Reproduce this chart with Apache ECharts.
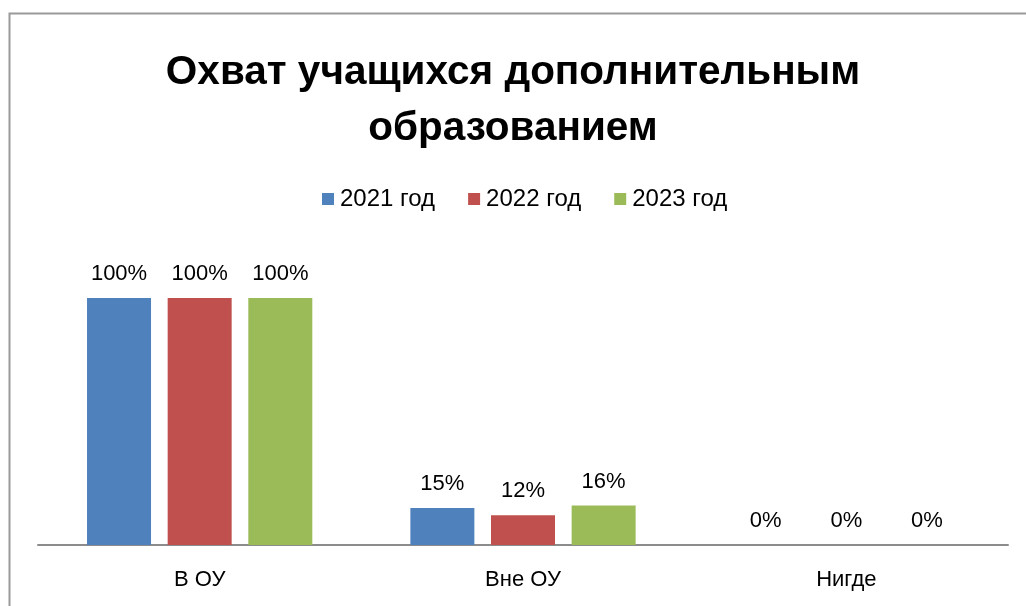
<!DOCTYPE html>
<html>
<head>
<meta charset="utf-8">
<script src="https://cdn.jsdelivr.net/npm/echarts@6/dist/echarts.min.js"></script>
<style>
  html, body { margin: 0; padding: 0; background: #fff; }
  #chart { width: 1026px; height: 606px; }
</style>
</head>
<body>
<div id="chart"></div>
<script>
// chart data
var categories = ['В ОУ', 'Вне ОУ', 'Нигде'];
var seriesNames = ['2021 год', '2022 год', '2023 год'];
var values2021 = [100, 15, 0];
var values2022 = [100, 12, 0];
var values2023 = [100, 16, 0];
var colors = ['#4F81BD', '#C0504D', '#9BBB59'];

initChart();

function initChart() {
  var dom = document.getElementById('chart');
  var myChart = echarts.init(dom);
  var allValues = [values2021, values2022, values2023];
  var font = 'Liberation Sans';

  var series = seriesNames.map(function (name, i) {
    return {
      name: name,
      type: 'bar',
      data: allValues[i],
      barWidth: 64,
      barGap: '26%',
      itemStyle: { color: colors[i] },
      label: {
        show: true,
        position: 'top',
        distance: 13,
        formatter: '{c}%',
        color: '#000',
        fontSize: 22,
        fontFamily: font
      }
    };
  });

  var option = {
    animation: false,
    title: {
      text: 'Охват учащихся дополнительным\nобразованием',
      left: 'center',
      top: 40,
      textStyle: {
        color: '#000',
        fontSize: 40.5,
        fontWeight: 'bold',
        fontFamily: font,
        lineHeight: 56
      }
    },
    legend: {
      top: 182,
      left: 317,
      itemWidth: 12,
      itemHeight: 12,
      itemGap: 33,
      icon: 'rect',
      textStyle: { color: '#000', fontSize: 24, fontFamily: font, padding: [0, 0, 0, 1] },
      data: seriesNames
    },
    graphic: [{
      type: 'rect',
      shape: { x: 9.5, y: 13.5, width: 1100, height: 700 },
      style: { fill: 'none', stroke: '#9a9a9a', lineWidth: 2 },
      silent: true
    }],
    grid: {
      left: 38,
      right: 18,
      top: 298,
      bottom: 61,
      containLabel: false
    },
    xAxis: {
      type: 'category',
      data: categories,
      axisLine: { lineStyle: { color: '#8c8c8c', width: 2 } },
      axisTick: { show: false },
      axisLabel: { color: '#000', fontSize: 22, fontFamily: font, margin: 24 }
    },
    yAxis: {
      type: 'value',
      min: 0,
      max: 100,
      show: false,
      splitLine: { show: false }
    },
    series: series
  };

  if (option && typeof option === 'object') {
    myChart.setOption(option, true);
    window.onresize = myChart.resize;
  }
}
</script>
</body>
</html>
